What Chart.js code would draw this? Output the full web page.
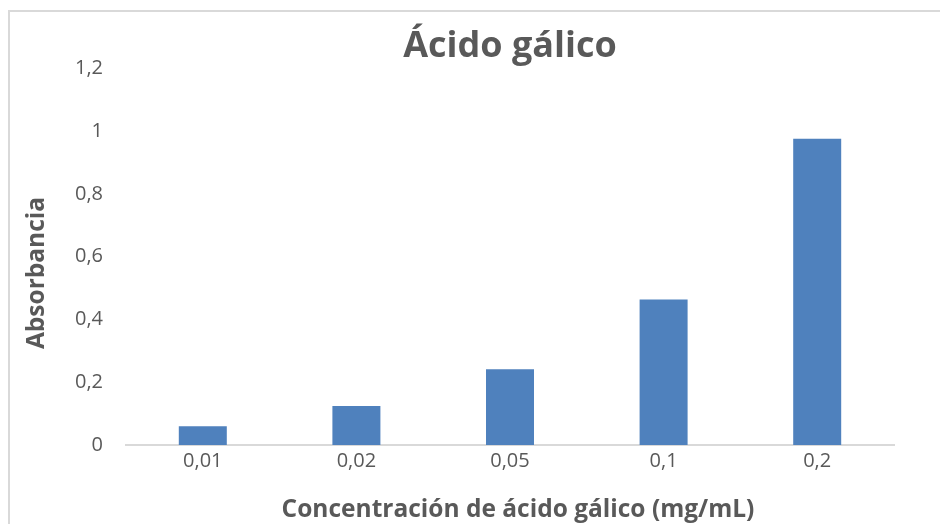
<!DOCTYPE html>
<html>
<head>
<meta charset="utf-8">
<script src="https://cdn.jsdelivr.net/npm/chart.js@4/dist/chart.umd.min.js"></script>
<style>
  html, body { margin: 0; padding: 0; background: #fff; overflow: hidden; }
  #frame { position: absolute; left: 8px; top: 10px; width: 1000px; height: 600px; border: 2px solid #d9d9d9; box-sizing: border-box; }
  #wrap { position: absolute; left: 0; top: 0; width: 940px; height: 524px; }
</style>
</head>
<body>
<div id="frame"></div>
<div id="wrap"><canvas id="chart" width="940" height="524"></canvas></div>
<script>
  // data
  const concentrations = ['0,01', '0,02', '0,05', '0,1', '0,2'];
  const absorbance = [0.060, 0.124, 0.241, 0.463, 0.975];
  const yTicks = [0, 0.2, 0.4, 0.6, 0.8, 1, 1.2];

  const xTitle = 'Concentración de ácido gálico (mg/mL)';
  const yTitle = 'Absorbancia';

  const FONT = "'Open Sans', sans-serif";
  const GREY = '#595959';

  // axis titles placed the way the spreadsheet places them (slightly off the scale centre)
  const axisTitles = {
    id: 'axisTitles',
    afterDraw(chart) {
      const c = chart.ctx;
      c.save();
      c.fillStyle = GREY;
      c.font = `bold 24.5px ${FONT}`;
      c.textAlign = 'center';
      c.textBaseline = 'middle';
      c.fillText(xTitle, 518, 510);
      c.translate(37, 273);
      c.rotate(-Math.PI / 2);
      c.fillText(yTitle, 0, 0);
      c.restore();
    }
  };

  const ctx = document.getElementById('chart').getContext('2d');
  new Chart(ctx, {
    type: 'bar',
    data: {
      labels: concentrations,
      datasets: [{
        data: absorbance,
        backgroundColor: '#4f81bd',
        borderWidth: 0,
        categoryPercentage: 1,
        barPercentage: 0.3125
      }]
    },
    options: {
      responsive: false,
      animation: false,
      layout: { padding: { left: 0, right: 46, top: 0, bottom: 0 } },
      plugins: {
        legend: { display: false },
        tooltip: { enabled: false },
        title: {
          display: true,
          fullSize: false,   // centre over the plot area
          text: 'Ácido gálico',
          color: GREY,
          font: { family: FONT, size: 36, weight: 'bold' },
          padding: { top: 25, bottom: 0 }
        }
      },
      scales: {
        x: {
          grid: { display: false, drawTicks: false },
          border: { display: true, color: '#d9d9d9', width: 2 },
          ticks: { color: GREY, font: { family: FONT, size: 20 }, padding: 4 },
          afterFit: s => { s.height = 79; }
        },
        y: {
          min: 0,
          max: 1.2,
          afterBuildTicks: s => { s.ticks = yTicks.map(v => ({ value: v })); },
          grid: { display: false, drawTicks: false },
          border: { display: false },
          ticks: {
            color: GREY,
            font: { family: FONT, size: 20 },
            padding: 23,
            callback: v => String(v).replace('.', ',')
          },
          afterFit: s => { s.width = 126; }
        }
      }
    },
    plugins: [axisTitles]
  });
</script>
</body>
</html>
